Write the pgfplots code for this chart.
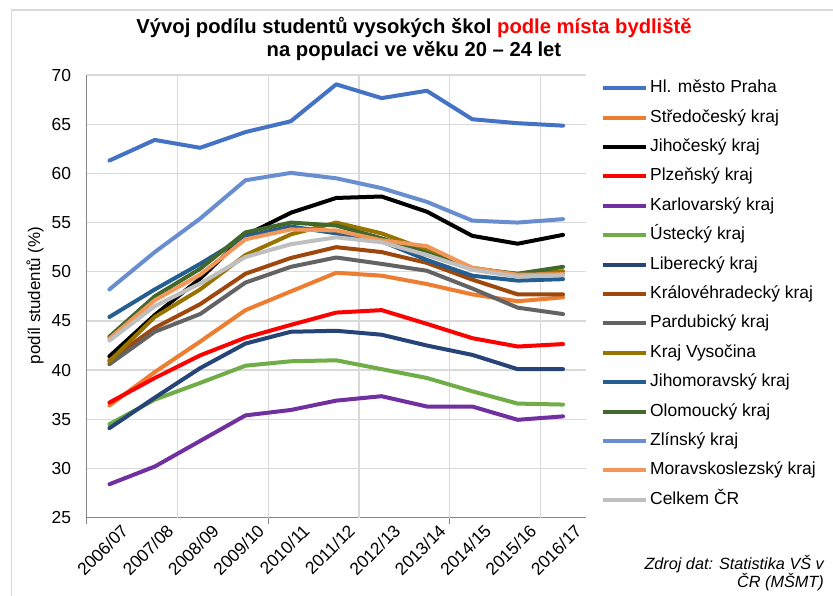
\documentclass[border=0pt]{standalone}
\usepackage{fontspec}
\setmainfont{Liberation Sans}
\usepackage{pgfplots}
\pgfplotsset{compat=1.18}
\usepackage{pgfplotstable}

\definecolor{cPraha}{HTML}{4472C4}
\definecolor{cStred}{HTML}{ED7D31}
\definecolor{cJihoc}{HTML}{000000}
\definecolor{cPlzen}{HTML}{FF0000}
\definecolor{cKarl}{HTML}{7030A0}
\definecolor{cUst}{HTML}{70AD47}
\definecolor{cLib}{HTML}{264478}
\definecolor{cKral}{HTML}{9E480E}
\definecolor{cPard}{HTML}{636363}
\definecolor{cVys}{HTML}{997300}
\definecolor{cJihom}{HTML}{255E91}
\definecolor{cOlom}{HTML}{43682B}
\definecolor{cZlin}{HTML}{698ED0}
\definecolor{cMorav}{HTML}{F1975A}
\definecolor{cCR}{HTML}{BFBFBF}
\definecolor{gridgrey}{HTML}{D9D9D9}
\definecolor{axisgrey}{HTML}{868686}
\definecolor{framegrey}{HTML}{D9D9D9}

\pgfplotstableread{
x Praha Stred Jihoc Plzen Karl Ust Lib Kral Pard Vys Jihom Olom Zlin Morav CR
0 61.3 36.4 41.4 36.7 28.4 34.5 34.1 41.0 40.6 40.9 45.4 43.4 48.2 43.2 43.0
1 63.4 39.8 45.6 39.2 30.2 37.0 37.2 44.3 43.9 45.4 48.2 47.5 52.0 47.1 46.5
2 62.6 42.9 49.3 41.5 32.8 38.7 40.2 46.7 45.7 48.2 50.8 50.3 55.4 49.7 48.8
3 64.2 46.1 53.7 43.3 35.4 40.45 42.7 49.8 48.9 51.7 53.6 54.0 59.3 53.3 51.5
4 65.3 48.0 56.0 44.6 35.95 40.9 43.9 51.4 50.5 53.8 54.6 55.0 60.05 54.3 52.8
5 69.05 49.9 57.5 45.85 36.9 41.0 44.0 52.5 51.45 55.0 53.9 54.7 59.5 54.2 53.5
6 67.65 49.6 57.65 46.1 37.35 40.1 43.6 52.0 50.8 53.9 53.1 53.4 58.5 53.2 53.0
7 68.4 48.75 56.1 44.7 36.3 39.2 42.5 50.9 50.1 52.2 51.2 51.9 57.1 52.6 51.7
8 65.5 47.7 53.65 43.25 36.3 37.85 41.55 49.2 48.3 50.4 49.6 50.3 55.2 50.4 50.2
9 65.1 47.0 52.85 42.4 34.95 36.6 40.1 47.7 46.35 49.75 49.1 49.8 55.0 49.7 49.5
10 64.85 47.4 53.75 42.65 35.3 36.5 40.1 47.7 45.7 50.05 49.25 50.5 55.35 49.75 49.65
}\data

\begin{document}
\begin{tikzpicture}
\useasboundingbox (0,0) rectangle (833bp,596bp);
\fill[white] (0,0) rectangle (833bp,596bp);
\draw[color=framegrey, line width=1.5bp] (11.7bp,0) -- (11.7bp,586bp) -- (833bp,586bp);
\node[align=center, font=\bfseries\fontsize{20.3}{24}\selectfont, inner sep=0pt] at (414bp,557bp)
  {Vývoj podílu studentů vysokých škol \textcolor{red}{podle místa bydliště}\\na populaci ve věku 20 – 24 let};
\node[rotate=90, font=\fontsize{17}{20}\selectfont, inner sep=0pt] at (35bp,300.5bp) {podíl studentů (\%)};
\node[anchor=east, align=right, font=\itshape\fontsize{16.3}{17.7}\selectfont, inner sep=0pt] at (824bp,23bp)
  {Zdroj dat: Statistika VŠ v\\ČR (MŠMT)};
\begin{axis}[
  at={(86.7bp,78.3bp)}, anchor=south west,
  scale only axis, width=499bp, height=442.7bp,
  xmin=-0.5, xmax=10.5, ymin=25, ymax=70,
  xtick={0,...,10},
  xticklabels={2006/07,2007/08,2008/09,2009/10,2010/11,2011/12,2012/13,2013/14,2014/15,2015/16,2016/17},
  ytick={25,30,...,70},
  axis x line*=bottom, axis y line*=left,
  axis line style={-, draw=axisgrey, line width=1.3bp},
  ymajorgrids, xmajorgrids=false,
  major grid style={draw=gridgrey, line width=1.3bp},
  extra x ticks={1.5,3.5,5.5,7.5,9.5}, extra x tick labels={},
  extra x tick style={xmajorgrids=true, major tick length=0pt},
  minor xtick={-0.5,3.5,7.5}, minor tick length=6bp, tick align=outside,
  minor tick style={draw=axisgrey, line width=1.3bp},
  major tick length=0pt,
  /pgf/number format/assume math mode=true,
  yticklabel style={font=\fontsize{17.5}{20}\selectfont, inner sep=0pt, xshift=-15.5bp},
  xticklabel style={font=\fontsize{17.5}{21}\selectfont, rotate=45, anchor=east, inner sep=0pt, xshift=4bp, yshift=-18bp},
  every axis plot/.append style={line width=4bp, line join=round, line cap=round},
  legend cell align=left,
  legend style={at={(axis description cs:1.030,0.9883)}, anchor=north west, draw=none, fill=none,
    inner sep=0pt, outer sep=0pt, font=\fontsize{17.5}{20}\selectfont, row sep=13.2bp, column sep=2.5bp,
    nodes={inner sep=0pt, text height=12.5bp, text depth=3.7bp}},
  legend image code/.code={\draw[#1, line cap=butt] (0bp,0bp) -- (43bp,0bp);},
]
\addplot[color=cPraha] table[x=x,y=Praha]{\data};
\addlegendentry{Hl. město Praha}
\addplot[color=cStred] table[x=x,y=Stred]{\data};
\addlegendentry{Středočeský kraj}
\addplot[color=cJihoc] table[x=x,y=Jihoc]{\data};
\addlegendentry{Jihočeský kraj}
\addplot[color=cPlzen] table[x=x,y=Plzen]{\data};
\addlegendentry{Plzeňský kraj}
\addplot[color=cKarl] table[x=x,y=Karl]{\data};
\addlegendentry{Karlovarský kraj}
\addplot[color=cUst] table[x=x,y=Ust]{\data};
\addlegendentry{Ústecký kraj}
\addplot[color=cLib] table[x=x,y=Lib]{\data};
\addlegendentry{Liberecký kraj}
\addplot[color=cKral] table[x=x,y=Kral]{\data};
\addlegendentry{Královéhradecký kraj}
\addplot[color=cPard] table[x=x,y=Pard]{\data};
\addlegendentry{Pardubický kraj}
\addplot[color=cVys] table[x=x,y=Vys]{\data};
\addlegendentry{Kraj Vysočina}
\addplot[color=cJihom] table[x=x,y=Jihom]{\data};
\addlegendentry{Jihomoravský kraj}
\addplot[color=cOlom] table[x=x,y=Olom]{\data};
\addlegendentry{Olomoucký kraj}
\addplot[color=cZlin] table[x=x,y=Zlin]{\data};
\addlegendentry{Zlínský kraj}
\addplot[color=cMorav] table[x=x,y=Morav]{\data};
\addlegendentry{Moravskoslezský kraj}
\addplot[color=cCR] table[x=x,y=CR]{\data};
\addlegendentry{Celkem ČR}
\end{axis}
\end{tikzpicture}
\end{document}
